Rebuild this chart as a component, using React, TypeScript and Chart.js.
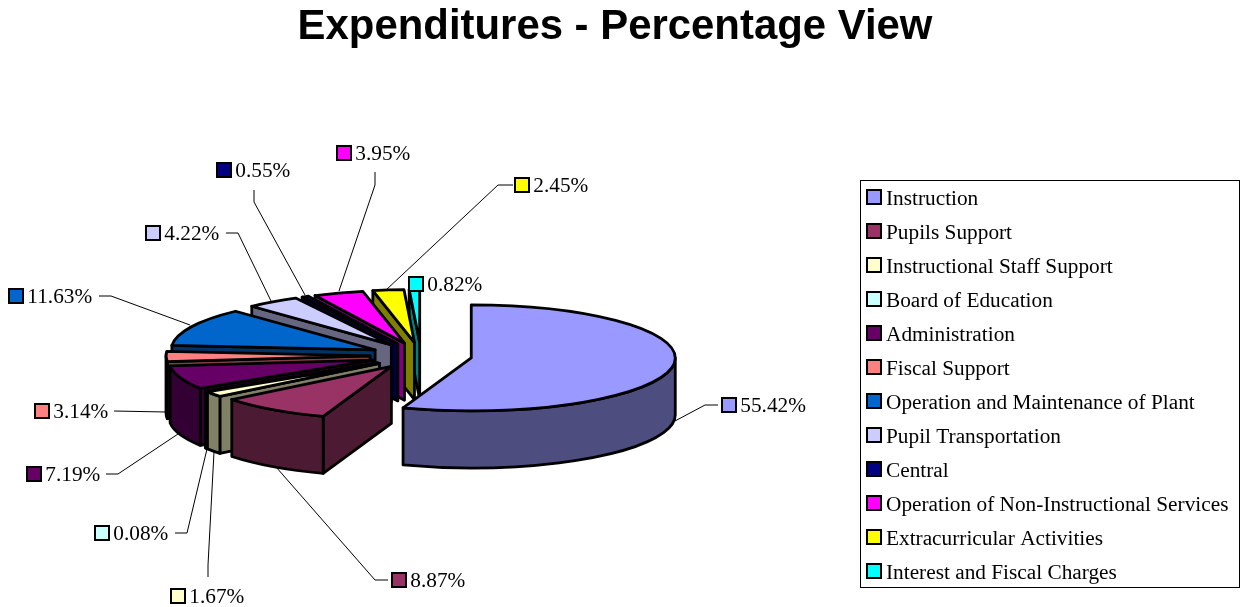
import React, { useEffect, useRef } from "react";
import { Chart, registerables } from "chart.js";

Chart.register(...registerables);

const titleText = "Expenditures - Percentage View";
const categories = [
  "Instruction",
  "Pupils Support",
  "Instructional Staff Support",
  "Board of Education",
  "Administration",
  "Fiscal Support",
  "Operation and Maintenance of Plant",
  "Pupil Transportation",
  "Central",
  "Operation of Non-Instructional Services",
  "Extracurricular Activities",
  "Interest and Fiscal Charges",
];
const percentages = [55.42, 8.87, 1.67, 0.08, 7.19, 3.14, 11.63, 4.22, 0.55, 3.95, 2.45, 0.82];
const topColors = ["#9999FF", "#993366", "#FFFFCC", "#CCFFFF", "#660066", "#FF8080", "#0066CC", "#CCCCFF", "#000080", "#FF00FF", "#FFFF00", "#00FFFF"];
const wallColors = ["#4D4D80", "#4D1A33", "#808066", "#668080", "#330033", "#804040", "#003366", "#666680", "#000040", "#800080", "#808000", "#008080"];

// Label placement: swatch left, swatch centre y, then the leader line's points.
const labelLayout: { x: number; y: number; leader: number[][] }[] = [
  { x: 721, y: 405, leader: [[718, 405], [705, 405], [675, 421]] },
  { x: 391, y: 580, leader: [[388, 580], [375, 580], [276, 467]] },
  { x: 170, y: 596, leader: [[208, 577], [208, 565], [214, 452]] },
  { x: 94, y: 533, leader: [[175, 533], [187, 533], [207, 449]] },
  { x: 26, y: 474, leader: [[106, 474], [118, 474], [178, 434]] },
  { x: 34, y: 411, leader: [[114, 411], [166, 412]] },
  { x: 8, y: 296, leader: [[99, 296], [111, 296], [190, 325]] },
  { x: 145, y: 233, leader: [[226, 233], [238, 233], [271, 301]] },
  { x: 216, y: 170, leader: [[254, 190], [254, 202], [305, 295]] },
  { x: 336, y: 153, leader: [[375, 172], [375, 185], [339, 291]] },
  { x: 514, y: 185, leader: [[513, 185], [498, 185], [386, 290]] },
  { x: 408, y: 284, leader: [] },
];

const PIE_AREA = { left: 217, right: 625, top: 151.7, bottom: 559.7 };
const SQUASH = 53 / 204;
const DEPTH = 57;
const EXPLODE = 0.25;
const OUTLINE = 2.8;
const LEGEND_BOX = { left: 860.5, top: 180.5, right: 1239.5, bottom: 587.5 };
const LEGEND_ROW0 = 198;
const LEGEND_STEP = 34;
const SERIF = '"Liberation Serif", "Times New Roman", serif';
const FONT_SIZE = 21.3;

function swatch(ctx: CanvasRenderingContext2D, left: number, cy: number, color: string) {
  ctx.fillStyle = color;
  ctx.strokeStyle = "#000";
  ctx.lineWidth = 2;
  ctx.beginPath();
  ctx.rect(left + 1, cy - 7, 14, 14);
  ctx.fill();
  ctx.stroke();
}

const pie3d = {
  id: "pie3d",
  afterLayout(chart: any) {
    const a = PIE_AREA;
    Object.assign(chart.chartArea, {
      left: a.left,
      right: a.right,
      top: a.top,
      bottom: a.bottom,
      width: a.right - a.left,
      height: a.bottom - a.top,
    });
  },
  beforeDatasetsDraw(chart: any) {
    const ctx: CanvasRenderingContext2D = chart.ctx;
    const arcs = chart.getDatasetMeta(0).data;
    ctx.save();
    ctx.lineJoin = "round";
    ctx.lineWidth = OUTLINE;
    ctx.strokeStyle = "#000";
    for (let i = arcs.length - 1; i >= 0; i--) {
      const { x, y, startAngle: s, endAngle: e, outerRadius: R } = arcs[i];
      const mid = (s + e) / 2;
      const rx = R;
      const ry = R * SQUASH;
      const cx = x + Math.cos(mid) * EXPLODE * rx;
      const cy = y + Math.sin(mid) * EXPLODE * ry;
      const px = (t: number) => cx + Math.cos(t) * rx;
      const py = (t: number) => cy + Math.sin(t) * ry;
      const paint = (color: string) => {
        ctx.fillStyle = color;
        ctx.fill();
        ctx.stroke();
      };
      const radialWall = (t: number) => {
        ctx.beginPath();
        ctx.moveTo(cx, cy);
        ctx.lineTo(px(t), py(t));
        ctx.lineTo(px(t), py(t) + DEPTH);
        ctx.lineTo(cx, cy + DEPTH);
        ctx.closePath();
        paint(wallColors[i]);
      };
      if (-Math.cos(s) > 0) radialWall(s);
      if (Math.cos(e) > 0) radialWall(e);
      const a0 = Math.max(s, 0);
      const a1 = Math.min(e, Math.PI);
      if (a1 > a0) {
        ctx.beginPath();
        ctx.ellipse(cx, cy, rx, ry, 0, a0, a1);
        ctx.lineTo(px(a1), py(a1) + DEPTH);
        ctx.ellipse(cx, cy + DEPTH, rx, ry, 0, a1, a0, true);
        ctx.closePath();
        paint(wallColors[i]);
      }
      ctx.beginPath();
      ctx.moveTo(cx, cy);
      ctx.ellipse(cx, cy, rx, ry, 0, s, e);
      ctx.closePath();
      paint(topColors[i]);
    }
    ctx.restore();
    return false;
  },
  afterDraw(chart: any) {
    const ctx: CanvasRenderingContext2D = chart.ctx;
    ctx.save();
    ctx.font = `${FONT_SIZE}px ${SERIF}`;
    ctx.textBaseline = "alphabetic";
    ctx.textAlign = "left";
    // value labels and their leaders
    labelLayout.forEach((l, i) => {
      if (l.leader.length) {
        ctx.strokeStyle = "#000";
        ctx.lineWidth = 1;
        ctx.beginPath();
        l.leader.forEach(([lx, ly], k) => (k ? ctx.lineTo(lx, ly) : ctx.moveTo(lx, ly)));
        ctx.stroke();
      }
      swatch(ctx, l.x, l.y, topColors[i]);
      ctx.fillStyle = "#000";
      ctx.fillText(`${percentages[i].toFixed(2)}%`, l.x + 19.3, l.y + 7);
    });
    // legend
    const b = LEGEND_BOX;
    ctx.strokeStyle = "#000";
    ctx.lineWidth = 1;
    ctx.strokeRect(b.left, b.top, b.right - b.left, b.bottom - b.top);
    categories.forEach((name, i) => {
      const rowY = LEGEND_ROW0 + i * LEGEND_STEP;
      swatch(ctx, 866, rowY - 1, topColors[i]);
      ctx.fillStyle = "#000";
      ctx.fillText(name, 886, rowY + 7);
    });
    ctx.restore();
  },
};

export default function App() {
  const ref = useRef<HTMLCanvasElement>(null);
  useEffect(() => {
    const chart = new Chart(ref.current as HTMLCanvasElement, {
      type: "pie",
      data: {
        labels: categories,
        datasets: [{ data: percentages, backgroundColor: topColors, borderColor: "#000", borderWidth: 0, hoverBorderWidth: 0 }],
      },
      options: {
        responsive: false,
        animation: false,
        layout: { padding: { right: 11 } },
        plugins: {
          legend: { display: false },
          tooltip: { enabled: false },
          title: {
            display: true,
            text: titleText,
            color: "#000",
            padding: { top: 2, bottom: 0 },
            font: { family: '"Liberation Sans", Arial, sans-serif', size: 41.9, weight: "bold", lineHeight: 1.2 },
          },
        },
      },
      plugins: [pie3d],
    } as any);
    return () => chart.destroy();
  }, []);
  return (
    <div style={{ position: "fixed", left: 0, top: 0, width: 1241, height: 607, background: "#fff" }}>
      <canvas ref={ref} width={1241} height={607} style={{ display: "block" }} />
    </div>
  );
}
